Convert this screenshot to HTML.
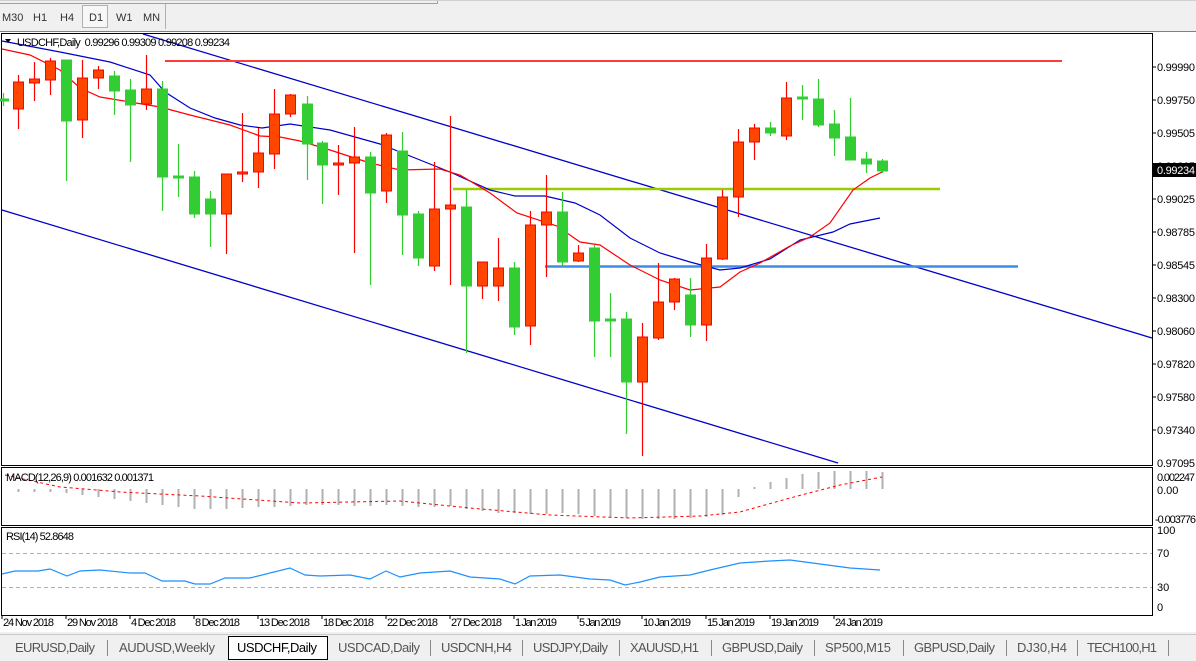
<!DOCTYPE html>
<html><head><meta charset="utf-8"><style>
body{margin:0;width:1196px;height:661px;overflow:hidden;background:#f0f0f0;font-family:"Liberation Sans",sans-serif;}
svg{position:absolute;left:0;top:0}
text{font-family:"Liberation Sans",sans-serif;font-size:11px}
</style></head><body>
<svg width="1196" height="661" xmlns="http://www.w3.org/2000/svg">
<rect x="0" y="0" width="1196" height="661" fill="#f0f0f0"/>
<line x1="0" y1="3.5" x2="437" y2="3.5" stroke="#a0a0a0"/>
<line x1="437.5" y1="0" x2="437.5" y2="4" stroke="#a0a0a0"/>
<line x1="0" y1="0.5" x2="1196" y2="0.5" stroke="#d0d0d0"/>
<rect x="82.5" y="5.5" width="25" height="22" fill="#f7f7f7" stroke="#b0b0b0"/>
<line x1="165.5" y1="4" x2="165.5" y2="29" stroke="#b0b0b0"/>
<g fill="#333"><text x="2" y="21">M30</text><text x="33" y="21">H1</text><text x="60" y="21">H4</text><text x="89" y="21">D1</text><text x="116" y="21">W1</text><text x="143" y="21">MN</text></g>
<line x1="0" y1="31.5" x2="1196" y2="31.5" stroke="#808080"/>
<rect x="0" y="32" width="1196" height="600" fill="#fff"/>
<rect x="1.5" y="33.5" width="1151" height="432" fill="#fff" stroke="#000"/>
<rect x="1.5" y="467.5" width="1151" height="58" fill="#fff" stroke="#000"/>
<rect x="1.5" y="527.5" width="1151" height="88" fill="#fff" stroke="#000"/>
<line x1="143" y1="34" x2="1152" y2="338" stroke="#0000cc" stroke-width="1.3"/>
<line x1="2" y1="210" x2="838" y2="463" stroke="#0000cc" stroke-width="1.3"/>
<line x1="165" y1="61" x2="1062" y2="61" stroke="#ff3b3b" stroke-width="2"/>
<line x1="453" y1="189" x2="940" y2="189" stroke="#9acd00" stroke-width="2.5"/>
<line x1="545" y1="266.5" x2="1018" y2="266.5" stroke="#3a8ee6" stroke-width="2.5"/>
<polyline fill="none" stroke="#0000cc" stroke-width="1.2" points="2,41 60,52 110,62 150,75 165,92 190,108 215,118 240,125 262,128 290,124 330,130 380,144 420,160 450,172 490,190 515,196 545,196 575,203 600,215 630,238 660,253 690,262 720,270 740,268 770,259 800,240 833,232 850,224 880,218"/>
<polyline fill="none" stroke="#ff0000" stroke-width="1.2" points="2,49 30,55 60,70 80,88 100,97 130,102 160,107 190,115 230,125 260,136 280,137 300,141 330,150 370,163 400,170 440,169 460,175 490,193 517,213 557,226 580,242 600,245 630,265 660,280 690,290 720,287 740,272 760,263 790,246 810,237 830,223 853,190 870,178 882,172"/>
<g id="candles"></g>
<path d="M5,39 L11,39 L8,43 Z" fill="#000"/>
<text x="17" y="46" fill="#000" textLength="213">USDCHF,Daily&#160;&#160;0.99296 0.99309 0.99208 0.99234</text>
<g fill="#000">
<text x="1157" y="71" textLength="38">0.99990</text><text x="1157" y="104" textLength="38">0.99750</text><text x="1157" y="137" textLength="38">0.99505</text><text x="1157" y="170" textLength="38">0.99265</text>
<text x="1157" y="203" textLength="38">0.99025</text><text x="1157" y="236" textLength="38">0.98785</text><text x="1157" y="269" textLength="38">0.98545</text><text x="1157" y="302" textLength="38">0.98300</text>
<text x="1157" y="335" textLength="38">0.98060</text><text x="1157" y="368" textLength="38">0.97820</text><text x="1157" y="401" textLength="38">0.97580</text><text x="1157" y="434" textLength="38">0.97340</text><text x="1157" y="467" textLength="38">0.97095</text>
</g>
<g stroke="#000"><line x1="1152" y1="67" x2="1156" y2="67"/><line x1="1152" y1="100" x2="1156" y2="100"/><line x1="1152" y1="133" x2="1156" y2="133"/><line x1="1152" y1="199" x2="1156" y2="199"/><line x1="1152" y1="232" x2="1156" y2="232"/><line x1="1152" y1="265" x2="1156" y2="265"/><line x1="1152" y1="298" x2="1156" y2="298"/><line x1="1152" y1="331" x2="1156" y2="331"/><line x1="1152" y1="364" x2="1156" y2="364"/><line x1="1152" y1="397" x2="1156" y2="397"/><line x1="1152" y1="430" x2="1156" y2="430"/></g>
<rect x="1153" y="163" width="43" height="14" fill="#000"/>
<text x="1157" y="174" fill="#fff" textLength="38">0.99234</text>
<g id="macd"></g>
<polyline fill="none" stroke="#ff0000" stroke-dasharray="3,3" points="5,475 60,487 120,492 200,496 300,503 400,501 470,508 550,515 630,518 700,516 740,512 790,498 840,485 882,477"/>
<text x="6" y="481" fill="#000" textLength="148">MACD(12,26,9) 0.001632 0.001371</text>
<text x="1157" y="481" fill="#000" textLength="38">0.002247</text><text x="1157" y="494" fill="#000">0.00</text><text x="1155" y="523" fill="#000" textLength="41">-0.003776</text>
<line x1="2" y1="553.5" x2="1152" y2="553.5" stroke="#b0b0b0" stroke-dasharray="4,3"/>
<line x1="2" y1="587.5" x2="1152" y2="587.5" stroke="#b0b0b0" stroke-dasharray="4,3"/>
<polyline fill="none" stroke="#1e90ff" stroke-width="1.2" points="2,574 15,571 38,571 50,569 67,576 80,571 100,570 130,573 145,573 162,581 185,581 195,584 210,584 225,578 250,578 290,568 305,575 320,576 350,575 370,579 386,571 400,577 420,573 450,571 470,577 500,579 515,584 530,576 560,575 590,579 610,580 625,585 640,582 660,577 690,575 710,570 740,563 770,561 790,560 820,564 850,568 880,570"/>
<text x="6" y="540" fill="#000" textLength="68">RSI(14) 52.8648</text>
<text x="1157" y="534" fill="#000">100</text><text x="1157" y="557" fill="#000">70</text><text x="1157" y="591" fill="#000">30</text><text x="1157" y="611" fill="#000">0</text>
<g fill="#000">
<text x="3" y="626" textLength="51">24 Nov 2018</text><text x="67" y="626" textLength="51">29 Nov 2018</text><text x="131" y="626" textLength="45">4 Dec 2018</text><text x="195" y="626" textLength="45">8 Dec 2018</text>
<text x="259" y="626" textLength="51">13 Dec 2018</text><text x="323" y="626" textLength="51">18 Dec 2018</text><text x="387" y="626" textLength="51">22 Dec 2018</text><text x="451" y="626" textLength="51">27 Dec 2018</text>
<text x="515" y="626" textLength="42">1 Jan 2019</text><text x="579" y="626" textLength="42">5 Jan 2019</text><text x="643" y="626" textLength="48">10 Jan 2019</text><text x="707" y="626" textLength="48">15 Jan 2019</text>
<text x="771" y="626" textLength="48">19 Jan 2019</text><text x="835" y="626" textLength="48">24 Jan 2019</text>
</g>
<g stroke="#000"><line x1="2" y1="615" x2="2" y2="619"/><line x1="66" y1="615" x2="66" y2="619"/><line x1="130" y1="615" x2="130" y2="619"/><line x1="194" y1="615" x2="194" y2="619"/><line x1="258" y1="615" x2="258" y2="619"/><line x1="322" y1="615" x2="322" y2="619"/><line x1="386" y1="615" x2="386" y2="619"/><line x1="450" y1="615" x2="450" y2="619"/><line x1="514" y1="615" x2="514" y2="619"/><line x1="578" y1="615" x2="578" y2="619"/><line x1="642" y1="615" x2="642" y2="619"/><line x1="706" y1="615" x2="706" y2="619"/><line x1="770" y1="615" x2="770" y2="619"/><line x1="834" y1="615" x2="834" y2="619"/></g>
<rect x="0" y="632" width="1196" height="29" fill="#f0f0f0"/>
<line x1="0" y1="634.5" x2="1196" y2="634.5" stroke="#c8c8c8"/>
<rect x="228.5" y="636.5" width="99" height="23" fill="#fff" stroke="#000"/>
<g fill="#555">
<text x="15" y="652" style="font-size:13px" textLength="80">EURUSD,Daily</text>
<text x="119" y="652" style="font-size:13px" textLength="96">AUDUSD,Weekly</text>
<text x="237" y="652" style="font-size:13px" fill="#000" textLength="80">USDCHF,Daily</text>
<text x="338" y="652" style="font-size:13px" textLength="82">USDCAD,Daily</text>
<text x="441" y="652" style="font-size:13px" textLength="71">USDCNH,H4</text>
<text x="533" y="652" style="font-size:13px" textLength="75">USDJPY,Daily</text>
<text x="630" y="652" style="font-size:13px" textLength="69">XAUUSD,H1</text>
<text x="722" y="652" style="font-size:13px" textLength="81">GBPUSD,Daily</text>
<text x="825" y="652" style="font-size:13px" textLength="66">SP500,M15</text>
<text x="914" y="652" style="font-size:13px" textLength="81">GBPUSD,Daily</text>
<text x="1017" y="652" style="font-size:13px" textLength="50">DJ30,H4</text>
<text x="1087" y="652" style="font-size:13px" textLength="70">TECH100,H1</text>
</g>
<g stroke="#888"><line x1="107.5" y1="640" x2="107.5" y2="656"/><line x1="430.5" y1="640" x2="430.5" y2="656"/><line x1="522.5" y1="640" x2="522.5" y2="656"/><line x1="619.5" y1="640" x2="619.5" y2="656"/><line x1="711.5" y1="640" x2="711.5" y2="656"/><line x1="814.5" y1="640" x2="814.5" y2="656"/><line x1="903.5" y1="640" x2="903.5" y2="656"/><line x1="1006.5" y1="640" x2="1006.5" y2="656"/><line x1="1077.5" y1="640" x2="1077.5" y2="656"/><line x1="1168.5" y1="640" x2="1168.5" y2="656"/></g>
</svg>
<script>
var d=[[3,93,106,99,101,'g'],[18,75,129,82,109,'r'],[34,62,101,79,83,'r'],[50,58,95,61,80,'r'],[66,60,181,60,121,'g'],[82,60,138,78,120,'r'],[98,66,89,70,78,'r'],[114,71,115,76,91,'g'],[130,79,162,90,105,'g'],[146,55,110,89,104,'r'],[162,81,211,89,177,'g'],[178,144,197,176,178,'g'],[194,171,218,177,214,'g'],[210,191,247,199,214,'g'],[226,174,254,174,214,'r'],[242,113,182,172,174,'r'],[258,128,188,153,172,'r'],[274,89,169,114,154,'r'],[290,94,117,95,114,'r'],[307,96,180,104,144,'g'],[322,141,204,143,165,'g'],[338,145,195,163,165,'r'],[354,127,253,157,163,'r'],[370,152,285,157,193,'g'],[386,133,203,135,191,'r'],[402,132,255,151,215,'g'],[418,211,266,214,258,'g'],[434,162,271,209,266,'r'],[450,116,285,205,209,'r'],[466,190,353,207,286,'g'],[482,262,299,262,286,'r'],[498,238,301,268,286,'r'],[514,262,335,268,327,'g'],[530,211,345,225,326,'r'],[546,175,277,212,225,'r'],[562,192,266,212,262,'g'],[578,245,262,253,261,'r'],[594,245,357,248,321,'g'],[610,293,357,319,321,'g'],[626,312,434,319,382,'g'],[642,323,456,337,382,'r'],[658,263,340,302,338,'r'],[674,278,310,279,302,'r'],[690,278,337,295,325,'g'],[706,244,341,258,325,'r'],[722,190,260,197,259,'r'],[738,129,217,142,197,'r'],[754,124,160,128,142,'r'],[770,122,136,128,133,'g'],[786,82,140,98,136,'r'],[802,85,120,97,99,'g'],[818,79,127,99,125,'g'],[834,110,156,124,138,'g'],[850,98,160,137,160,'g'],[866,152,173,159,164,'g'],[882,159,173,161,171,'g']];
var s='';
d.forEach(function(c){var col=c[5]=='r'?'#ff0000':'#32cd32',f=c[5]=='r'?'#ff4500':'#32cd32';
s+='<line x1="'+(c[0]+.5)+'" y1="'+c[1]+'" x2="'+(c[0]+.5)+'" y2="'+c[2]+'" stroke="'+col+'" stroke-width="1.2"/>';
var h=Math.max(c[4]-c[3],1);s+='<rect x="'+(c[0]-4.5)+'" y="'+c[3]+'" width="10" height="'+h+'" fill="'+f+'" stroke="'+col+'" stroke-width="1"/>';});
document.getElementById('candles').innerHTML=s;
var m=[-3,-3,-3,-3,-4,-6,-8,-10,-12,-14,-16,-18,-20,-20,-20,-19,-18,-18,-17,-16,-16,-16,-17,-17,-16,-17,-18,-18,-17,-20,-22,-24,-24,-25,-25,-24,-25,-27,-28,-29,-30,-30,-30,-29,-28,-26,-8,2,7,11,15,17,18,18,18,17];
var t='';m.forEach(function(v,i){var x=(i==0)?18:2+i*16;var y1=Math.min(489,489-v),y2=Math.max(489,489-v);t+='<line x1="'+(x+.5)+'" y1="'+y1+'" x2="'+(x+.5)+'" y2="'+y2+'" stroke="#b0b0b0" stroke-width="2"/>';});
document.getElementById('macd').innerHTML=t;
</script>
</body></html>
